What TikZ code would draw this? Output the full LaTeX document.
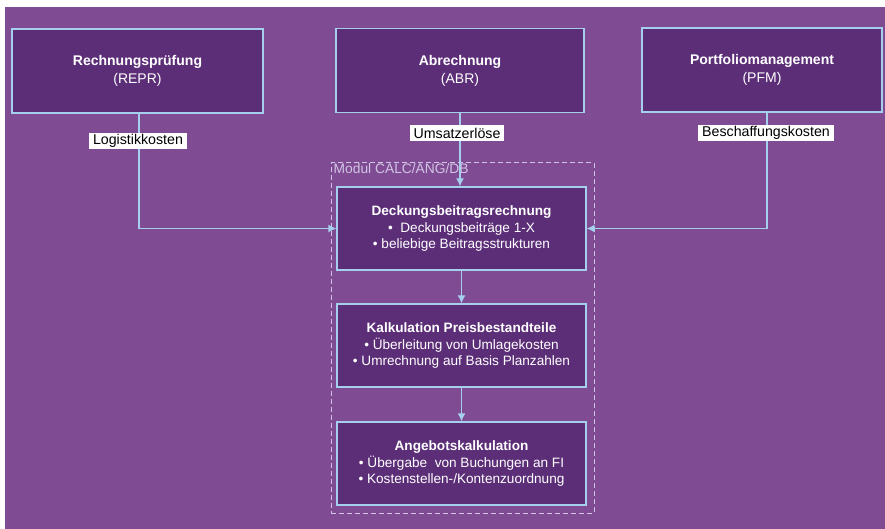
\documentclass[tikz,border=0pt]{standalone}
\usepackage{fontspec}
\setmainfont{Liberation Sans}
\usetikzlibrary{arrows.meta}
\definecolor{bgpurple}{HTML}{7F4C93}
\definecolor{boxpurple}{HTML}{5D2E78}
\definecolor{lineblue}{HTML}{A6CFEE}
\definecolor{dashlila}{HTML}{D2C4E4}
\tikzset{
  sysbox/.style={draw=lineblue, line width=1.3pt, fill=boxpurple, text=white,
    minimum height=84pt, align=center, font=\fontsize{14}{18}\selectfont},
  calcbox/.style={sysbox, minimum width=249pt, minimum height=83pt,
    font=\fontsize{13.6}{16.8}\selectfont},
  flowlabel/.style={fill=white, text=black, inner xsep=4pt, inner ysep=0pt,
    minimum height=16pt, font=\fontsize{14.2}{15}\selectfont},
  flow/.style={draw=lineblue, line width=1.3pt, -{Latex[length=8pt,width=8pt]}},
  modulframe/.style={draw=dashlila, line width=1pt, dash pattern=on 5pt off 3pt,
    minimum width=263pt, minimum height=350pt},
}
\begin{document}
\begin{tikzpicture}[x=1pt,y=-1pt]
\useasboundingbox (0,0) rectangle (885,529);
\fill[white] (0,0) rectangle (885,529);
\fill[bgpurple] (5,7) rectangle (885,529);
% Modul
\node[modulframe] (modul) at (462.5,338) {};
\node[anchor=north west, inner xsep=3pt, inner ysep=1pt, text=dashlila, font=\fontsize{13.8}{15}\selectfont]
  (modtitle) at (modul.north west) {Modul CALC/ANG/DB};
% Quellsysteme
\node[sysbox, minimum width=251pt] (repr) at (137.5,71) {\textbf{Rechnungsprüfung}\\(REPR)};
\node[sysbox, minimum width=248pt] (abr) at (460,70.5) {\textbf{Abrechnung}\\(ABR)};
\node[sysbox, minimum width=240pt] (pfm) at (762,70) {\textbf{Portfoliomanagement}\\(PFM)};
\coordinate (reprout) at ([xshift=1.5pt]repr.south);
\coordinate (pfmout) at ([xshift=5pt]pfm.south);
% Rechenschritte
\node[calcbox] (deckung) at (461.5,228.5)
  {\textbf{Deckungsbeitragsrechnung}\\• \ Deckungsbeiträge 1-X\\• beliebige Beitragsstrukturen};
\node[calcbox] (kalk) at (461.5,345.5)
  {\textbf{Kalkulation Preisbestandteile}\\• Überleitung von Umlagekosten\\• Umrechnung auf Basis Planzahlen};
\node[calcbox] (angebot) at (461.5,463.5)
  {\textbf{Angebotskalkulation}\\• Übergabe\ \ von Buchungen an FI\\• Kostenstellen-/Kontenzuordnung};
% Flüsse
\draw[flow] (reprout) |- (deckung.west);
\draw[flow] (pfmout) |- (deckung.east);
\draw[flow] (abr.south) -- (abr.south |- deckung.north);
\draw[flow] (deckung) -- (kalk);
\draw[flow] (kalk) -- (angebot);
\node[flowlabel] (logistik) at (138,141) {Logistikkosten};
\node[flowlabel] (umsatz) at (457,133) {Umsatzerlöse};
\node[flowlabel] (beschaffung) at (766,133) {Beschaffungskosten};
\end{tikzpicture}
\end{document}
